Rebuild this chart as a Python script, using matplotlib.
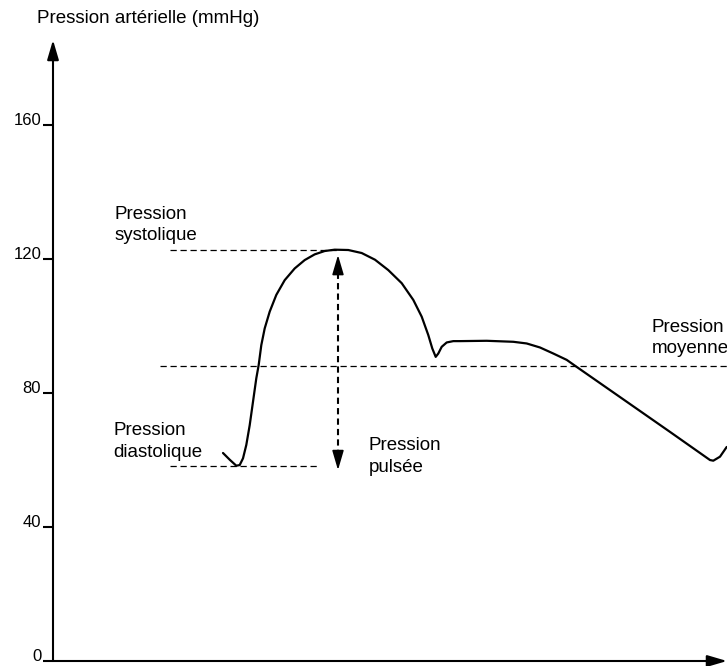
import matplotlib
matplotlib.use("Agg")
import matplotlib.pyplot as plt

plt.rcParams["font.family"] = ["Liberation Sans", "DejaVu Sans"]

# arterial pressure wave over one cardiac cycle (time in arbitrary units)
t = [170, 176.7, 183.3, 186.7, 190, 193.3, 196.7, 200, 203.3, 205.7, 208.3,
     211.7, 216.7, 223.3, 231.7, 241.7, 251.7, 261.7, 271.7, 281.7,
     295.3, 308.7, 322, 335.3, 348.7, 360.3, 368.7, 375.3, 379.3, 382.7,
     385.3, 388.7, 393.7, 400.3, 407, 433.7, 460.3, 473.7, 487, 500.3,
     513.7, 523.7, 567, 617, 647, 657, 660.3, 667, 673.7]
p = [62.1, 60.1, 58.3, 58.5, 60.5, 64.5, 70.4, 77.4, 84.4, 88.4, 94.3,
     99.3, 104.3, 109.3, 113.7, 117.2, 119.7, 121.4, 122.4, 122.8,
     122.7, 121.8, 119.8, 116.7, 112.8, 107.8, 102.8, 97.3, 93.3, 90.8,
     91.8, 93.8, 95.1, 95.5, 95.5, 95.6, 95.3, 94.8, 93.6, 91.8,
     89.9, 87.8, 78.8, 68.4, 62.1, 60.0, 59.8, 61.0, 63.9]

p_sys = 122.6
p_dia = 58.1
p_mean = 88.1
t_pulse = 285

yticks = [0, 40, 80, 120, 160]

fig = plt.figure(figsize=(7.27, 6.66), dpi=100)
ax = fig.add_axes([53 / 727, 5 / 666, 674 / 727, 621 / 666])
ax.set_xlim(0, 674)
ax.set_ylim(0, 185.4)
for s in ax.spines.values():
    s.set_visible(False)
ax.set_xticks([])
ax.set_yticks(yticks)
ax.set_yticklabels([str(v) for v in yticks], fontsize=12)
ax.tick_params(axis="y", length=7, width=1.5, pad=1.5, direction="out")
for lab in ax.get_yticklabels():
    lab.set_va("baseline")

# axes drawn as arrows
head = "-|>,head_length=0.85,head_width=0.25"
ax.annotate("", xy=(0, 1), xytext=(0, 0), xycoords="axes fraction",
            arrowprops=dict(arrowstyle=head, color="black", lw=1.5,
                            shrinkA=0, shrinkB=0, mutation_scale=14))
ax.annotate("", xy=(1, 0), xytext=(0, 0), xycoords="axes fraction",
            arrowprops=dict(arrowstyle=head, color="black", lw=1.5,
                            shrinkA=0, shrinkB=0, mutation_scale=14))

fig.text(37 / 727, 1 - 23 / 666, "Pression artérielle (mmHg)", fontsize=13.5,
         va="baseline")

# curve
ax.plot(t, p, color="black", lw=1.6, solid_joinstyle="round",
        solid_capstyle="round", clip_on=False)

# reference lines
dash = dict(color="black", lw=0.9, linestyle=(0, (5, 3)))
ax.plot([117, t_pulse], [p_sys, p_sys], **dash)
ax.plot([117, 267], [p_dia, p_dia], **dash)
ax.plot([107, 674], [p_mean, p_mean], clip_on=False, **dash)

# pulse pressure double arrow
ax.plot([t_pulse, t_pulse], [p_dia + 3, p_sys - 3], color="black", lw=1.5,
        linestyle=(0, (3, 2)))
ax.annotate("", xy=(t_pulse, p_sys - 1.4), xytext=(t_pulse, p_sys - 5),
            arrowprops=dict(arrowstyle=head, color="black", lw=1.2,
                            shrinkA=0, shrinkB=0, mutation_scale=14))
ax.annotate("", xy=(t_pulse, p_dia - 1.1), xytext=(t_pulse, p_dia + 3),
            arrowprops=dict(arrowstyle=head, color="black", lw=1.2,
                            shrinkA=0, shrinkB=0, mutation_scale=14))

# va="baseline" pins the last line of each label
lbl = dict(fontsize=13.5, va="baseline", ha="left", linespacing=1.34)
ax.text(62, 125.7, "Pression\nsystolique", **lbl)
ax.text(60.3, 61.0, "Pression\ndiastolique", **lbl)
ax.text(315.3, 56.5, "Pression\npulsée", **lbl)
ax.text(598.7, 91.9, "Pression\nmoyenne", clip_on=False, **lbl)

fig.savefig("out.png", dpi=100)
